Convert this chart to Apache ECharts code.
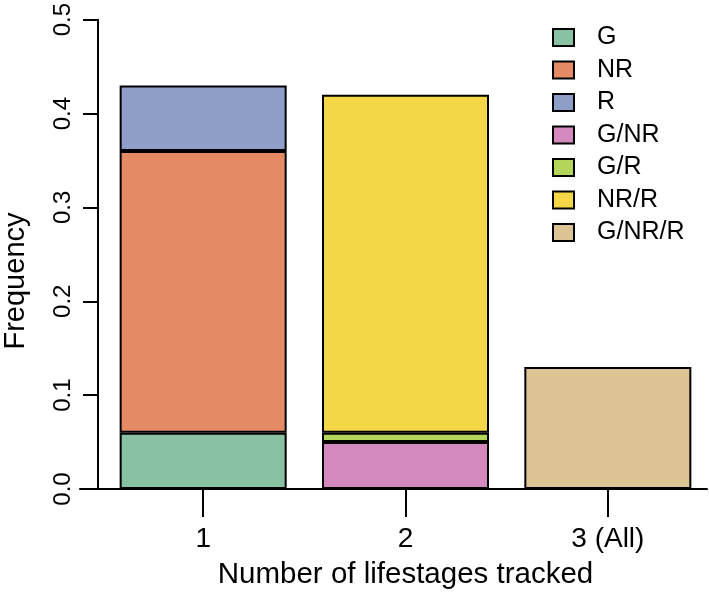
<!DOCTYPE html>
<html>
<head>
<meta charset="utf-8">
<script src="https://cdn.jsdelivr.net/npm/echarts@6/dist/echarts.min.js"></script>
<style>html,body{margin:0;padding:0;background:#fff}#c{width:709px;height:599px}</style>
</head>
<body>
<div id="c"></div>
<script>
const categories = ['1', '2', '3 (All)'];
const seriesNames = ['G', 'NR', 'R', 'G/NR', 'G/R', 'NR/R', 'G/NR/R'];
const G      = [0.06, null, null];
const NR     = [0.30, null, null];
const R      = [0.07, null, null];
const G_NR   = [null, 0.05, null];
const G_R    = [null, 0.01, null];
const NR_R   = [null, 0.36, null];
const G_NR_R = [null, null, 0.13];
const yTicks = [0, 0.1, 0.2, 0.3, 0.4, 0.5];
const yTitle = 'Frequency';
const xTitle = 'Number of lifestages tracked';

const values = [G, NR, R, G_NR, G_R, NR_R, G_NR_R];
const colors = ['#89c1a3', '#e48b65', '#8f9dc9', '#d389be', '#b2d55a', '#f3d746', '#dbc393'];
const FONT = 'Liberation Sans, Arial, Helvetica, sans-serif';

const chart = echarts.init(document.getElementById('c'), null, {renderer: 'canvas'});
chart.setOption({
  animation: false,
  backgroundColor: '#fff',
  textStyle: {fontFamily: FONT, color: '#000'},
  grid: [
    {left: 102, right: 0, top: 17, bottom: 110},
    {left: 80, right: 2, top: 73, bottom: 110}
  ],
  graphic: [{
    type: 'text', rotation: Math.PI / 2, x: 16, y: 281,
    style: {text: yTitle, fontFamily: FONT, fontSize: 29, fill: '#000', align: 'center', verticalAlign: 'middle'}
  }],
  legend: {
    orient: 'vertical', left: 552, top: 25, padding: 0,
    itemWidth: 21, itemHeight: 17, itemGap: 7.5,
    icon: 'rect',
    itemStyle: {borderColor: '#000', borderWidth: 2},
    textStyle: {fontFamily: FONT, fontSize: 25, color: '#000', lineHeight: 25, padding: [0, 0, 0, 18]},
    data: seriesNames
  },
  xAxis: [
    {
      type: 'category', gridIndex: 0, data: categories,
      axisLine: {show: false},
      axisTick: {show: true, alignWithLabel: true, length: 28, lineStyle: {color: '#000', width: 2}},
      axisLabel: {fontFamily: FONT, fontSize: 28, color: '#000', margin: 36},
      name: xTitle, nameLocation: 'middle', nameGap: 71,
      nameTextStyle: {fontFamily: FONT, fontSize: 29.5, color: '#000'}
    },
    {
      type: 'value', gridIndex: 1, min: 0, max: 1,
      axisLine: {show: true, lineStyle: {color: '#000', width: 2}},
      axisTick: {show: false}, axisLabel: {show: false}, splitLine: {show: false}
    }
  ],
  yAxis: [
    {
      type: 'value', gridIndex: 0, min: 0, max: 0.5, interval: 0.1, offset: 4,
      axisLine: {show: true, lineStyle: {color: '#000', width: 2}},
      axisTick: {show: true, length: 15, lineStyle: {color: '#000', width: 2}},
      axisLabel: {rotate: 90, fontFamily: FONT, fontSize: 24, color: '#000', margin: 23,
        formatter: v => yTicks.some(t => Math.abs(t - v) < 1e-9) ? v.toFixed(1) : ''},
      splitLine: {show: false}
    },
    {
      type: 'value', gridIndex: 1, min: 0, max: 1, show: false
    }
  ],
  series: seriesNames.map((n, i) => ({
    name: n, type: 'bar', stack: 'total', xAxisIndex: 0, yAxisIndex: 0,
    barWidth: 167, data: values[i],
    itemStyle: {color: colors[i], borderColor: '#000', borderWidth: 2}
  }))
});
</script>
</body>
</html>
